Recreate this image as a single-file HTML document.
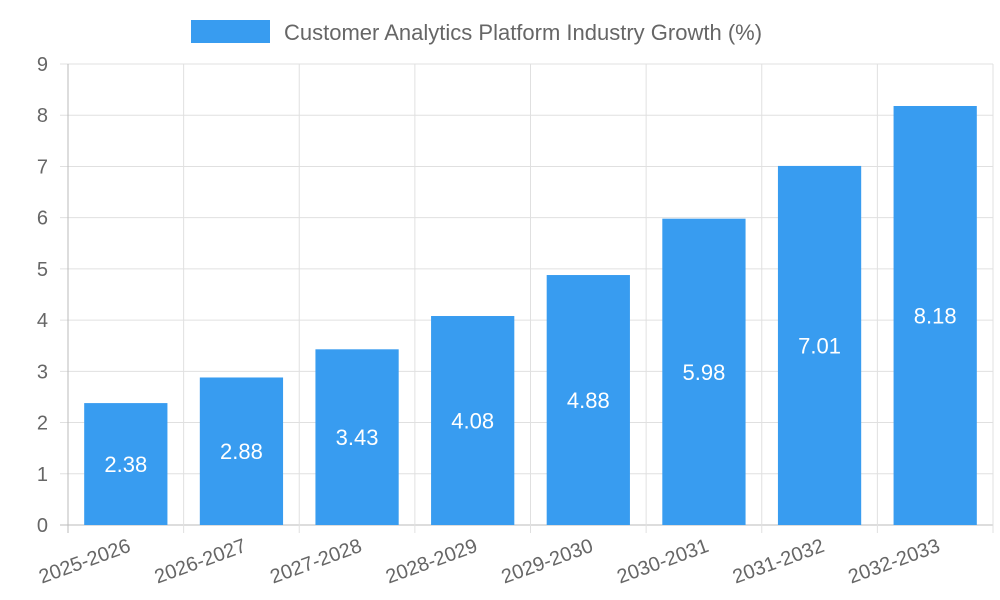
<!DOCTYPE html>
<html><head><meta charset="utf-8"><style>
body{margin:0;background:#fff;}
svg{display:block;font-family:"Liberation Sans",sans-serif;}
</style></head><body>
<svg id="chart" width="1000" height="600">
<g id="legend">
<rect x="191" y="20" width="79" height="23" fill="#389cf0"/>
<text x="284" y="40" font-size="22" fill="#666">Customer Analytics Platform Industry Growth (%)</text>
</g>
<g id="grid"></g><g id="bars"></g><g id="labels"></g>
</svg>
<script>
const categories=["2025-2026","2026-2027","2027-2028","2028-2029","2029-2030","2030-2031","2031-2032","2032-2033"];
const values=[2.38,2.88,3.43,4.08,4.88,5.98,7.01,8.18];
const yTicks=[0,1,2,3,4,5,6,7,8,9];
const L=68,R=993,T=64,B=525,yMax=9;
const y=v=>B-(v/yMax)*(B-T);
const bw=(R-L)/categories.length;
const x=i=>L+bw*i;
const ns="http://www.w3.org/2000/svg";
function mk(tag,attrs,parent){const e=document.createElementNS(ns,tag);for(const k in attrs)e.setAttribute(k,attrs[k]);document.getElementById(parent).appendChild(e);return e;}
yTicks.forEach(t=>{
 const l=mk('line',{x1:L-8,x2:R,y1:y(t),y2:y(t),stroke:t===0?'#bbb':'#e0e0e0','stroke-width':1},'grid');
 
 
 const tx=mk('text',{x:L-20,y:y(t)+7,'font-size':20,fill:'#666','text-anchor':'end'},'grid');
 tx.textContent=t;
 
 
});
for(let i=0;i<=categories.length;i++){
 const l=mk('line',{x1:x(i),x2:x(i),y1:T,y2:B+8,stroke:i===0?'#bbb':'#e0e0e0','stroke-width':1},'grid');
 
 
}
categories.forEach((c,i)=>{
 const cx=x(i)+bw/2,w=bw*0.72;
 const r=mk('rect',{x:cx-w/2,y:y(values[i]),width:w,height:B-y(values[i]),fill:'#389cf0'},'bars');
 
 
 const v=mk('text',{x:cx,y:(y(values[i])+B)/2+8,'font-size':22,fill:'#fff','text-anchor':'middle'},'labels');
 v.textContent=values[i].toFixed(2);
 
 
 const t=mk('text',{x:cx+6,y:B+26,'font-size':20,fill:'#666','text-anchor':'end',transform:`rotate(-20 ${cx+6} ${B+26})`},'labels');
 t.textContent=c;
 
 
});
</script>
</body></html>
